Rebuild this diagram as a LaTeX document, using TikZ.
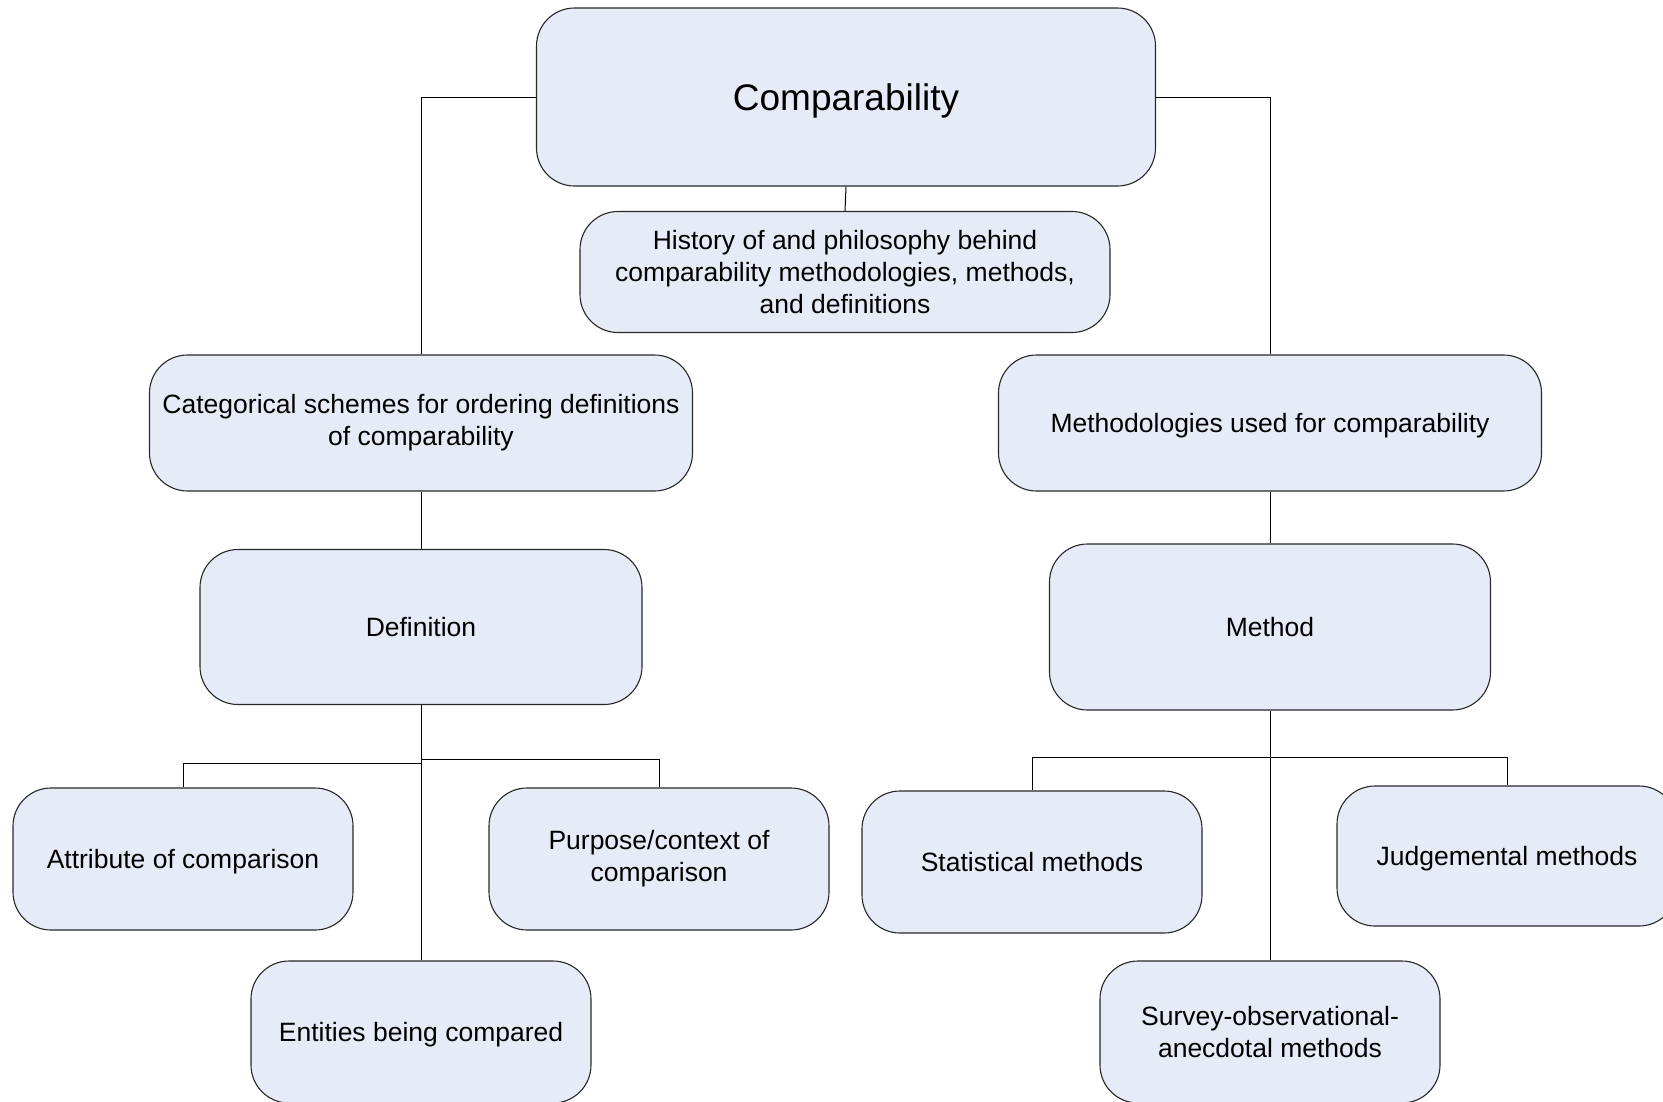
\documentclass[tikz,border=0pt]{standalone}
\usepackage{fontspec}
\setmainfont{Liberation Sans}
\usepackage{tikz}
\usetikzlibrary{positioning}

\definecolor{boxfill}{RGB}{230,236,247}
\definecolor{boxline}{RGB}{40,40,40}

\begin{document}
\begin{tikzpicture}[
    x=1pt, y=-1pt,
    box/.style={draw=boxline, fill=boxfill, line width=1.1pt, rounded corners=38pt,
        align=center, inner sep=0pt, font=\fontsize{26.5}{32}\selectfont},
    small/.style={box, minimum width=340pt, minimum height=142pt},
    oneline/.style={text depth=0pt},
    line/.style={line width=1pt, draw=black}
]
\useasboundingbox (0,0) rectangle (1663,1101);

\node (comp) [box, oneline, minimum width=619pt, minimum height=178pt, font=\fontsize{37}{44}\selectfont] at (846,97) {Comparability};
\node (hist) [box, minimum width=530pt, minimum height=121pt] at (845,272) {History of and philosophy behind\\comparability methodologies, methods,\\and definitions};
\node (categ) [box, minimum width=543pt, minimum height=136pt] at (421,423) {Categorical schemes for ordering definitions\\of comparability};
\node (meth) [box, oneline, minimum width=543pt, minimum height=136pt] at (1270,423) {Methodologies used for comparability};
\node (defn) [box, oneline, minimum width=442pt, minimum height=155pt] at (421,627) {Definition};
\node (method) [box, oneline, minimum width=441pt, minimum height=166pt] at (1270,627) {Method};
\node (attr) [small, oneline] at (183,859) {Attribute of comparison};
\node (purp) [small] at (659,859) {Purpose/context of\\comparison};
\node (ent) [small, oneline] at (421,1032) {Entities being compared};
\node (stat) [small, oneline] at (1032,862) {Statistical methods};
\node (judg) [small, oneline, minimum height=140pt] at (1507,856) {Judgemental methods};
\node (surv) [small] at (1270,1032) {Survey-observational-\\anecdotal methods};

\coordinate (dl) at (421,763);
\coordinate (dr) at (421,759);
\coordinate (mj) at (1270,757);

\draw [line] (comp.west) -| (categ.north);
\draw [line] (comp.east) -| (meth.north);
\draw [line] (comp.south) -- (hist.north);
\draw [line] (categ.south) -- (defn.north);
\draw [line] (meth.south) -- (method.north);
\draw [line] (defn.south) -- (ent.north);
\draw [line] (dl) -| (attr.north);
\draw [line] (dr) -| (purp.north);
\draw [line] (method.south) -- (surv.north);
\draw [line] (stat.north) |- (mj) -| (judg.north);

\end{tikzpicture}
\end{document}
